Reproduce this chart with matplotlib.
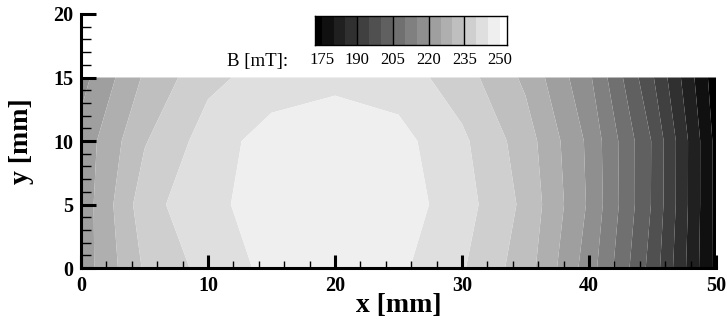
import numpy as np
import matplotlib
matplotlib.use("Agg")
import matplotlib.pyplot as plt
from matplotlib.colors import ListedColormap, BoundaryNorm

# ---------------- DATA ----------------
# measurement grid (mm)
x_mm = [0, 5, 10, 15, 20, 25, 30, 35, 40, 45, 50]
y_mm = [0, 5, 10, 15]

# B field [mT], one row per y position
B_y0 = [222.2, 235.6, 241.8, 246.4, 248.0, 246.0, 240.5, 232.4, 217.5, 197.9, 173.5]
B_y5 = [221.8, 237.9, 244.1, 246.6, 249.0, 247.6, 242.2, 233.8, 219.3, 199.5, 173.5]
B_y10 = [221.8, 234.6, 242.3, 247.4, 248.0, 246.7, 241.0, 232.5, 218.9, 199.6, 173.5]
B_y15 = [218.2, 230.7, 238.8, 242.0, 243.8, 242.6, 237.3, 229.0, 215.9, 195.5, 172.0]

# contour levels and colour bar labels
levels = [175, 180, 185, 190, 195, 200, 205, 210, 215, 220, 225, 230, 235, 240, 245, 250]
cbar_labels = [175, 190, 205, 220, 235, 250]
cbar_range = (172.2, 253.1)

# ---------------- STYLE ----------------
plt.rcParams['font.family'] = ['Liberation Serif', 'DejaVu Serif']

n_bands = len(levels) + 1
grays = [str(i / (n_bands - 1)) for i in range(n_bands)]
cmap = ListedColormap(grays[1:-1])
cmap.set_under(grays[0])
cmap.set_over(grays[-1])
norm = BoundaryNorm(levels, cmap.N)

X, Y = np.meshgrid(x_mm, y_mm)
B = np.array([B_y0, B_y5, B_y10, B_y15])

fig = plt.figure(figsize=(7.27, 3.24), dpi=100)
ax = fig.add_axes([0.1114, 0.1728, 0.8735, 0.784])

ax.contourf(X, Y, B, levels=levels, cmap=cmap, norm=norm, extend='both',
            antialiased=True)

ax.set_xlim(0, 50)
ax.set_ylim(0, 20)
ax.set_xticks([0, 10, 20, 30, 40, 50])
ax.set_xticks(np.arange(0, 51, 2), minor=True)
ax.set_yticks([0, 5, 10, 15, 20])
ax.set_yticks(np.arange(0, 21, 1), minor=True)

for s in ['top', 'right']:
    ax.spines[s].set_visible(False)
for s in ['left', 'bottom']:
    ax.spines[s].set_linewidth(2.2)

ax.tick_params(axis='y', which='major', direction='in', length=10.5, width=2.2, pad=5.5)
ax.tick_params(axis='y', which='minor', direction='in', length=7, width=1.0)
ax.tick_params(axis='x', which='major', direction='in', length=9.5, width=2.2, pad=6)
ax.tick_params(axis='x', which='minor', direction='in', length=5, width=1.0)
for lab in ax.get_xticklabels() + ax.get_yticklabels():
    lab.set_fontsize(14.5)
    lab.set_fontweight('bold')

ax.set_xlabel("x [mm]", fontsize=20, fontweight='bold')
ax.set_ylabel("y [mm]", fontsize=20, fontweight='bold')
ax.xaxis.set_label_coords(0.5, -0.1)
ax.yaxis.set_label_coords(-0.074, 0.5)

# ---------------- COLOUR BAR ----------------
cax = fig.add_axes([0.4333, 0.861, 0.2645, 0.0895])
edges = [cbar_range[0]] + levels + [cbar_range[1]]
mids = [(edges[i] + edges[i + 1]) / 2 for i in range(len(edges) - 1)]
cax.pcolormesh(edges, [0, 1], [mids], cmap=cmap, norm=norm)
for v in cbar_labels[1:-1]:
    cax.axvline(v, color='black', lw=1.0)
cax.set_xlim(*cbar_range)
cax.set_ylim(0, 1)
cax.set_yticks([])
cax.set_xticks(cbar_labels)
cax.set_xticklabels([str(v) for v in cbar_labels], fontsize=12)
cax.tick_params(axis='x', length=0, pad=5)
for s in cax.spines.values():
    s.set_linewidth(1.0)

fig.text(0.312, 0.809, "B [mT]:", fontsize=13.5, ha='left', va='center')

fig.savefig("out.png", dpi=100)
